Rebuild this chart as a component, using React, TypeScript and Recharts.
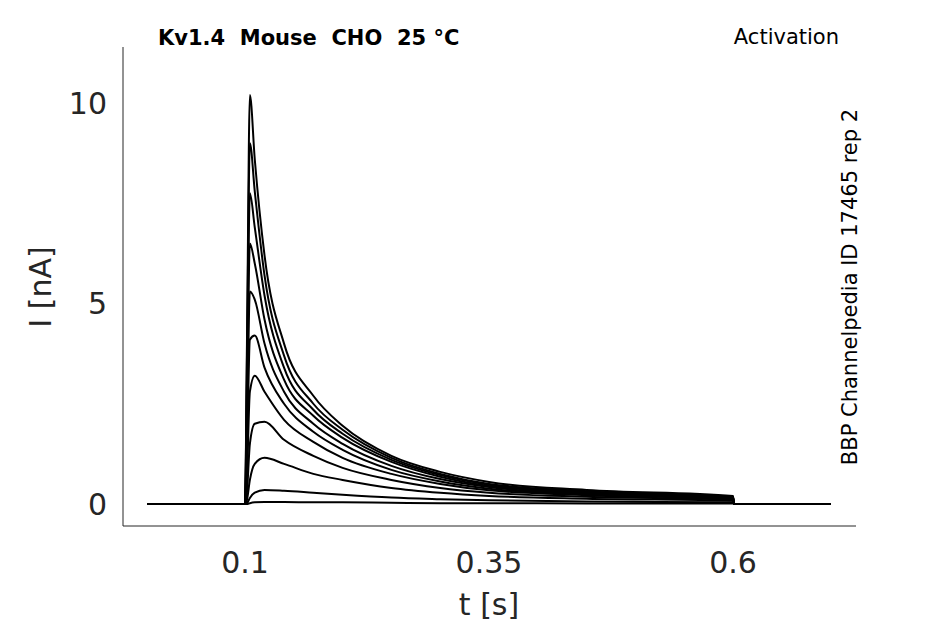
import { LineChart, Line, XAxis, YAxis } from "recharts"

const times = [0, 0.099, 0.1, 0.102, 0.105, 0.11, 0.12, 0.14, 0.17, 0.2, 0.25, 0.3, 0.35, 0.45, 0.6, 0.601, 0.7]

const traces = [
  [0, 0, 0, 4.0, 10.2, 8.6, 6.2, 4.0, 2.7, 1.95, 1.2, 0.8, 0.55, 0.35, 0.2, 0, 0],
  [0, 0, 0, 3.6, 9.0, 7.8, 5.7, 3.7, 2.5, 1.85, 1.15, 0.75, 0.5, 0.32, 0.18, 0, 0],
  [0, 0, 0, 3.0, 7.75, 6.9, 5.2, 3.4, 2.35, 1.75, 1.1, 0.72, 0.48, 0.3, 0.17, 0, 0],
  [0, 0, 0, 2.4, 6.5, 6.0, 4.6, 3.1, 2.2, 1.65, 1.05, 0.68, 0.45, 0.28, 0.16, 0, 0],
  [0, 0, 0, 1.8, 5.3, 5.1, 4.0, 2.8, 2.0, 1.5, 0.95, 0.62, 0.42, 0.26, 0.15, 0, 0],
  [0, 0, 0, 1.2, 4.1, 4.2, 3.4, 2.5, 1.8, 1.35, 0.85, 0.56, 0.38, 0.24, 0.14, 0, 0],
  [0, 0, 0, 0.7, 2.8, 3.2, 2.8, 2.1, 1.55, 1.15, 0.75, 0.5, 0.34, 0.22, 0.13, 0, 0],
  [0, 0, 0, 0.3, 1.5, 2.0, 2.05, 1.6, 1.2, 0.9, 0.6, 0.4, 0.28, 0.18, 0.11, 0, 0],
  [0, 0, 0, 0.1, 0.6, 1.0, 1.15, 1.0, 0.75, 0.6, 0.4, 0.28, 0.2, 0.13, 0.08, 0, 0],
  [0, 0, 0, 0.02, 0.15, 0.28, 0.35, 0.33, 0.28, 0.23, 0.16, 0.12, 0.09, 0.06, 0.04, 0, 0],
  [0, 0, 0, 0, 0.02, 0.04, 0.05, 0.05, 0.04, 0.04, 0.03, 0.02, 0.02, 0.01, 0.01, 0, 0],
]

const xTicks = [0.1, 0.35, 0.6]
const yTicks = [0, 5, 10]

const data = times.map((t, i) => {
  const row: Record<string, number> = { t }
  traces.forEach((tr, k) => (row["s" + k] = tr[i]))
  return row
})

const font = "DejaVu Sans, sans-serif"
const ink = "#262626"

export default function App() {
  return (
    <div style={{ position: "absolute", left: 0, top: 0, width: 945, height: 624, background: "#fff", fontFamily: font }}>
      <LineChart width={945} height={624} data={data} margin={{ top: 47, right: 89, bottom: 58, left: 63 }}>
        <XAxis
          dataKey="t"
          type="number"
          domain={[-0.025, 0.726]}
          ticks={xTicks}
          allowDataOverflow
          height={40}
          stroke={ink}
          tickLine={false}
          tick={{ fill: ink, fontSize: 30, fontFamily: font, dy: 18 }}
        />
        <YAxis
          type="number"
          domain={[-0.55, 11.4]}
          ticks={yTicks}
          allowDataOverflow
          width={60}
          stroke={ink}
          tickLine={false}
          tick={{ fill: ink, fontSize: 30, fontFamily: font, dx: -8 }}
        />
        {traces.map((_, k) => (
          <Line
            key={k}
            dataKey={"s" + k}
            type="monotone"
            stroke="#000"
            strokeWidth={2}
            dot={false}
            isAnimationActive={false}
          />
        ))}
      </LineChart>
      <div style={{ position: "absolute", left: 158, top: 26, fontSize: 21, fontWeight: "bold", color: "#000", whiteSpace: "pre" }}>
        Kv1.4  Mouse  CHO  25 °C
      </div>
      <div style={{ position: "absolute", right: 945 - 839, top: 25, fontSize: 21, color: "#000" }}>Activation</div>
      <div
        style={{
          position: "absolute",
          left: 850,
          top: 287,
          fontSize: 21,
          color: "#000",
          whiteSpace: "nowrap",
          transform: "translate(-50%, -50%) rotate(-90deg)",
        }}
      >
        BBP Channelpedia ID 17465 rep 2
      </div>
      <div style={{ position: "absolute", left: 40, top: 287, fontSize: 30, color: ink, whiteSpace: "nowrap", transform: "translate(-50%, -50%) rotate(-90deg)" }}>
        I [nA]
      </div>
      <div style={{ position: "absolute", left: 489, top: 604, fontSize: 30, color: ink, transform: "translate(-50%, -50%)" }}>t [s]</div>
    </div>
  )
}
